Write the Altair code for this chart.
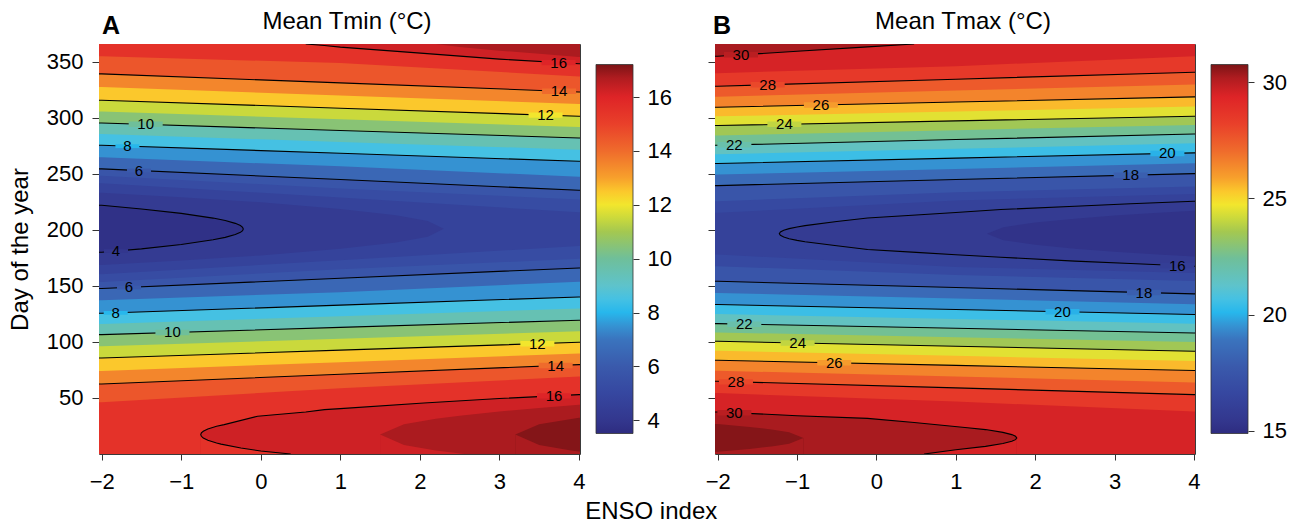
import altair as alt
import pandas as pd

FONT = "Liberation Sans"

# ---------------- colour palette of the colour bars (relative position, colour) ----------------
pal_pos = [0.0, 0.036, 0.109, 0.182, 0.255, 0.291, 0.328, 0.364, 0.401, 0.474,
           0.547, 0.583, 0.620, 0.656, 0.693, 0.766, 0.839, 0.912, 0.963, 1.0]
pal_col = ["#2e2c80", "#33378e", "#3647a0", "#3a5aac", "#3a74be", "#3592d2",
           "#27b7ec", "#45c1e3", "#5ec3cb", "#6fbf9a", "#a4c850", "#cad93c",
           "#f2e62d", "#fbc82c", "#f7a02c", "#ef6b2c", "#e9402a", "#de2427",
           "#b01c20", "#7b1416"]

# ---------------- axes / colour bars ----------------
enso_ticks = [-2, -1, 0, 1, 2, 3, 4]
day_ticks = [50, 100, 150, 200, 250, 300, 350]
cbar_a = [3.51, 17.21]
cbar_b = [14.89, 30.76]
cbar_ticks_a = [4, 6, 8, 10, 12, 14, 16]
cbar_ticks_b = [15, 20, 25, 30]

# ---------------- Panel A: mean Tmin, iso-lines ----------------
# straight iso-lines: day of the spring (lo) and autumn (hi) branch at ENSO -2, 1, 4
lin_x = [-2, 1, 4]
a_bg = 17.12
a_lin_levels = [15, 14, 13, 12, 11, 10, 9, 8, 7, 6, 5.5, 5]
a_lin_fill = [14.5, 13.5, 12.5, 11.5, 10.5, 9.5, 8.5, 7.5, 6.5, 5.75, 5.25, 4.75]
a_lin_lo = [[46.3, 58.6, 69.1], [62.5, 71.2, 79.8], [74.1, 82.0, 89.8], [85.7, 92.7, 99.7],
            [96.2, 102.9, 109.6], [106.6, 113.0, 119.4], [116.1, 123.0, 129.8], [125.6, 132.9, 140.2],
            [137.2, 144.5, 153.8], [147.7, 156.9, 166.1], [153.5, 165.0, 174.2], [160.4, 173.0, 185.7]]
a_lin_hi = [[355.0, 349.0, 337.0], [339.3, 331.3, 323.2], [327.6, 320.0, 312.4], [315.8, 308.7, 301.5],
            [305.7, 298.8, 291.8], [295.5, 288.8, 282.1], [285.6, 278.6, 271.7], [275.6, 268.5, 261.3],
            [264.8, 256.8, 247.6], [254.5, 245.0, 235.4], [248.5, 237.0, 227.2], [241.6, 229.0, 215.7]]
# curved iso-lines (area below the level: lower / upper day bound; *s = sliver under the lower branch)
a17_x = [-2, 3.2, 3.2, 3.5, 4]
a17_lo = [0, 0, 17.3, 26.5, 32.3]
a17_hi = [366, 366, 366, 366, 366]
a17s_x = [3.2, 3.5, 3.9, 4]
a17s_hi = [17.3, 8.1, 3.2, 2.3]
a165_x = [-2, 1.5, 1.5, 1.8, 2.2, 2.5, 3, 3.5, 4]
a165_lo = [0, 0, 17.3, 26.5, 31.4, 34.1, 37.9, 41.1, 43.9]
a165_hi = [366, 366, 366, 366, 366, 363.4, 360, 357.3, 354.5]
a165s_x = [1.5, 1.8, 2.2, 2.56]
a165s_hi = [17.3, 8.1, 3.2, 0]
a16_x = [-2, -0.755, -0.755, -0.747, -0.723, -0.666, -0.556, -0.46, -0.04, 0.565, 0.8, 1, 2.05, 3, 4]
a16_lo = [0, 0, 17.3, 18.8, 20.3, 22.3, 24.8, 26.2, 33.7, 37.5, 39.6, 40.5, 45.5, 49.5, 53]
a16_hi = [366, 366, 366, 366, 366, 366, 366, 366, 366, 366, 364.7, 363.2, 357.6, 352.5, 348.4]
a16s_x = [-0.755, -0.747, -0.723, -0.666, -0.556, -0.5, -0.25, 0, 0.376]
a16s_hi = [17.3, 15.8, 14.3, 12.3, 9.8, 8.8, 5.4, 2.7, 0]
a45_x = [-2, -1, 0, 1, 1.7, 2.1, 2.3]
a45_lo = [168.7, 172.7, 177.3, 183.2, 188.9, 194, 201]
a45_hi = [233.3, 229.3, 224.7, 218.8, 213.1, 208, 201]
a4_x = [-2, -1.5, -1.0, -0.6, -0.447, -0.321, -0.256, -0.229, -0.22]
a4_lo = [180.1, 183.1, 187.0, 191.2, 193.4, 195.9, 197.9, 199.4, 200.9]
a4_hi = [222.1, 218.7, 214.8, 210.6, 208.4, 205.9, 203.9, 202.4, 200.9]
# contour labels
a_lab_t = ["16", "14", "12", "10", "8", "6", "4", "6", "8", "10", "12", "14", "16"]
a_lab_x = [3.745, 3.75, 3.58, -1.447, -1.677, -1.531, -1.82, -1.657, -1.824, -1.111, 3.477, 3.707, 3.686]
a_lab_d = [349.4, 323.9, 302.5, 294.3, 274.8, 253.0, 181.2, 148.7, 126.0, 108.5, 98.5, 79.0, 51.9]

# ---------------- Panel B: mean Tmax ----------------
b_bg = 30.65
b_lin_levels = [29, 28, 27, 26, 25, 24, 23, 22, 21, 20, 19, 18, 17, 16.5]
b_lin_fill = [28.5, 27.5, 26.5, 25.5, 24.5, 23.5, 22.5, 21.5, 20.5, 19.5, 18.5, 17.5, 16.75, 16.25]
b_lin_lo = [[54.4, 46.8, 37.9], [64.9, 59.0, 53.0], [74.3, 69.2, 63.8], [83.7, 79.1, 74.5],
            [92.2, 87.6, 83.1], [100.6, 96.2, 91.7], [108.5, 104.2, 99.9], [116.4, 112.2, 108.0],
            [124.9, 120.6, 116.3], [133.4, 129.0, 124.5], [143.8, 138.8, 133.7], [154.2, 148.6, 142.9],
            [167.7, 159.7, 154.5], [178.1, 167.0, 161.5]]
b_lin_hi = [[340.0, 346.2, 355.1], [328.3, 334.6, 340.8], [318.9, 324.4, 329.8], [309.5, 314.2, 318.8],
            [301.4, 305.8, 310.2], [293.2, 297.4, 301.5], [284.4, 289.1, 293.6], [275.6, 280.7, 285.7],
            [267.5, 272.4, 277.3], [259.3, 264.1, 268.8], [249.5, 254.5, 259.6], [239.6, 245.0, 250.3],
            [225.7, 233.7, 238.8], [215.3, 226.4, 232.2]]
b305_x = [-2, -1.6, -1.3, -1.1, -0.92, -0.92, 4]
b305_lo = [26.7, 24.2, 21.7, 19.4, 14.3, 0, 0]
b305_hi = [366, 366, 366, 366, 366, 366, 366]
b305s_x = [-2, -1.6, -1.3, -1.1, -0.92]
b305s_hi = [1.9, 4.4, 6.9, 9.2, 14.3]
b30_x = [-2, -1, -0.112, 0.475, 1.147, 1.374, 1.593, 1.705, 1.752, 1.768, 1.768, 4]
b30_lo = [37.5, 34.2, 31.8, 28.1, 23.5, 21.8, 19.3, 17.3, 15.8, 14.3, 0, 0]
b30_hi = [355.1, 359.5, 363.4, 366, 366, 366, 366, 366, 366, 366, 366, 366]
b30s_x = [0.6, 1, 1.374, 1.593, 1.705, 1.752, 1.768]
b30s_hi = [0, 3.8, 6.8, 9.3, 11.3, 12.8, 14.3]
b16_x = [-1.224, -1.21, -1.168, -1.1, -1.0, -0.9, -0.5, -0.112, 0.5, 1, 1.567, 2.5, 3.2, 4]
b16_lo = [196.7, 195.2, 193.7, 192.2, 190.7, 189.5, 185.9, 182.5, 180, 177.8, 175.6, 172.2, 170, 167.6]
b16_hi = [196.7, 198.2, 199.7, 201.2, 202.7, 203.9, 207.5, 210.7, 213.4, 215.6, 218.2, 221.2, 223.4, 225.6]
b155_x = [1.39, 1.6, 2, 2.5, 3, 3.5, 4]
b155_lo = [196.7, 190.9, 186.8, 183.3, 180.6, 178.3, 176.2]
b155_hi = [196.7, 202.5, 206.6, 210.1, 212.8, 215.1, 217.2]
b_lab_t = ["30", "28", "26", "24", "22", "20", "18", "16", "18", "20", "22", "24", "26", "28", "30"]
b_lab_x = [-1.707, -1.37, -0.70, -1.16, -1.79, 3.665, 3.203, 3.79, 3.37, 2.343, -1.665, -0.993, -0.532, -1.77, -1.79]
b_lab_d = [356.4, 329.6, 311.5, 294.4, 276.0, 268.3, 248.9, 168.2, 144.1, 127.0, 115.9, 99.1, 81.5, 64.4, 36.8]

# ---------------- layout ----------------
XMIN, XMAX = -2.034, 4.013
DMIN, DMAX = 0, 366
PW_A, PW_B, PH = 481, 480, 410
CB_GAP, CB_W, CB_PAD = 16, 37, 20.5
MASK = "M-1,-0.16L1,-0.16L1,0.16L-1,0.16Z"

XS = alt.Scale(domain=[XMIN, XMAX], nice=False, zero=False)
YS = alt.Scale(domain=[DMIN, DMAX], nice=False, zero=False)


def cscale(rng):
    lo, hi = rng
    return alt.Scale(domain=[lo + t * (hi - lo) for t in pal_pos], range=pal_col,
                     interpolate="rgb", clamp=True)


def edge(x):
    if x == -2:
        return XMIN
    if x == 4:
        return XMAX
    return None


def extend(xs, cols):
    xs = list(xs)
    cols = [list(c) for c in cols]
    e = edge(xs[0])
    if e is not None:
        xs.insert(0, e)
        for c in cols:
            c.insert(0, c[0])
    e = edge(xs[-1])
    if e is not None:
        xs.append(e)
        for c in cols:
            c.append(c[-1])
    return xs, cols


def build_panel(regions, lines, labels, crng, cticks, xax, yax, pw, title, letter, letter_x):
    cs = cscale(crng)
    X = alt.X("x:Q", scale=XS, axis=xax)
    layers = []
    for xs, lo, hi, v in regions:
        xs2, (lo2, hi2) = extend(xs, [lo, hi])
        df = pd.DataFrame({"x": xs2, "lo": lo2, "hi": hi2})
        df["v"] = float(v)
        layers.append(alt.Chart(df).mark_area().encode(
            x=X, y=alt.Y("lo:Q", scale=YS, axis=yax), y2=alt.Y2("hi:Q"),
            fill=alt.Fill("v:Q", scale=cs, legend=None)))
    rows = []
    for k, (xs, ds) in enumerate(lines):
        xs2, (ds2,) = extend(xs, [ds])
        for i, (x, d) in enumerate(zip(xs2, ds2)):
            rows.append({"seg": k, "i": i, "x": x, "d": d})
    layers.append(alt.Chart(pd.DataFrame(rows)).mark_line(clip=True, color="black", strokeWidth=1.1).encode(
        x=X, y=alt.Y("d:Q", scale=YS, axis=yax), detail="seg:N", order=alt.Order("i:Q")))
    lt, lx, ld = labels
    ldf = pd.DataFrame({"t": lt, "x": lx, "d": ld})
    ldf["v"] = [float(t) for t in lt]
    ldf["s"] = [(34 if len(t) > 1 else 24) ** 2 for t in lt]
    layers.append(alt.Chart(ldf).mark_point(shape=MASK, filled=True, opacity=1, strokeWidth=0).encode(
        x=X, y=alt.Y("d:Q", scale=YS, axis=yax),
        fill=alt.Fill("v:Q", scale=cs, legend=None),
        size=alt.Size("s:Q", scale=None, legend=None)))
    layers.append(alt.Chart(ldf).mark_text(font=FONT, fontSize=15, color="black",
                                           align="center", baseline="middle").encode(
        x=X, y=alt.Y("d:Q", scale=YS, axis=yax), text="t:N"))
    layers.append(alt.Chart(pd.DataFrame({"t": [title]})).mark_text(
        font=FONT, fontSize=24, color="black", align="center", baseline="alphabetic").encode(
        text="t:N", x=alt.value(248), y=alt.value(-15)))
    layers.append(alt.Chart(pd.DataFrame({"t": [letter]})).mark_text(
        font=FONT, fontSize=25, fontWeight="bold", color="black", align="left", baseline="alphabetic").encode(
        text="t:N", x=alt.value(letter_x), y=alt.value(-10)))
    inner = alt.layer(*layers)

    lo, hi = crng
    ppu = (PH - 2 * CB_PAD) / (hi - lo)
    dom = [lo - CB_PAD / ppu, hi + CB_PAD / ppu]
    grad = alt.LinearGradient(gradient="linear",
                              stops=[alt.GradientStop(color=c, offset=t) for t, c in zip(pal_pos, pal_col)],
                              x1=0, x2=0, y1=1, y2=0)
    cb = alt.Chart(pd.DataFrame({"clo": [lo], "chi": [hi]})).mark_rect(
        fill=grad, stroke="#333333", strokeWidth=0.8).encode(
        y=alt.Y("clo:Q", scale=alt.Scale(domain=dom, nice=False, zero=False),
                axis=alt.Axis(orient="right", values=cticks, title=None, offset=CB_GAP + CB_W,
                              tickSize=6, labelPadding=8)),
        y2="chi:Q",
        x=alt.value(pw + CB_GAP), x2=alt.value(pw + CB_GAP + CB_W))
    return alt.layer(inner, cb).resolve_scale(y="independent").properties(width=pw, height=PH)


def zeros(xs):
    return [0] * len(xs)


# painter order: whole plot first, then ever colder regions on top
regions_a = [([-2, 4], [0, 0], [366, 366], a_bg),
             (a17_x, a17_lo, a17_hi, 16.75), (a17s_x, zeros(a17s_x), a17s_hi, 16.75),
             (a165_x, a165_lo, a165_hi, 16.25), (a165s_x, zeros(a165s_x), a165s_hi, 16.25),
             (a16_x, a16_lo, a16_hi, 15.5), (a16s_x, zeros(a16s_x), a16s_hi, 15.5)]
regions_a += [(lin_x, lo, hi, f) for lo, hi, f in zip(a_lin_lo, a_lin_hi, a_lin_fill)]
regions_a += [(a45_x, a45_lo, a45_hi, 4.25), (a4_x, a4_lo, a4_hi, 3.75)]

lines_a = [(a4_x + a4_x[-2::-1], a4_hi + a4_lo[-2::-1])]
for L in (14, 12, 10, 8, 6):
    k = a_lin_levels.index(L)
    lines_a += [(lin_x, a_lin_lo[k]), (lin_x, a_lin_hi[k])]
lines_a += [(a16s_x[::-1] + a16_x[3:], a16s_hi[::-1] + a16_lo[3:]),
            (a16_x[9:], a16_hi[9:])]

regions_b = [([-2, 4], [0, 0], [366, 366], b_bg),
             (b305_x, b305_lo, b305_hi, 30.25), (b305s_x, zeros(b305s_x), b305s_hi, 30.25),
             (b30_x, b30_lo, b30_hi, 29.5), (b30s_x, zeros(b30s_x), b30s_hi, 29.5)]
regions_b += [(lin_x, lo, hi, f) for lo, hi, f in zip(b_lin_lo, b_lin_hi, b_lin_fill)]
regions_b += [(b16_x, b16_lo, b16_hi, 15.75), (b155_x, b155_lo, b155_hi, 15.25)]

lines_b = [(b16_x[::-1] + b16_x[1:], b16_lo[::-1] + b16_hi[1:])]
for L in (28, 26, 24, 22, 20, 18):
    k = b_lin_levels.index(L)
    lines_b += [(lin_x, b_lin_lo[k]), (lin_x, b_lin_hi[k])]
lines_b += [(b30_x[:10] + b30s_x[-2::-1], b30_lo[:10] + b30s_hi[-2::-1]),
            (b30_x[:4], b30_hi[:4])]

xax_a = alt.Axis(values=enso_ticks, title="ENSO index", titleX=551.7, titleY=64,
                 titleAlign="center", titleBaseline="alphabetic", tickSize=6, labelPadding=11.5)
xax_b = alt.Axis(values=enso_ticks, title=None, tickSize=6, labelPadding=11.5)
yax_a = alt.Axis(values=day_ticks, title="Day of the year", titleX=-79, titleY=205,
                 titleAngle=270, titleAlign="center", titleBaseline="middle", tickSize=7, labelPadding=9)
yax_b = alt.Axis(values=day_ticks, title=None, labels=False, tickSize=7)

panel_a = build_panel(regions_a, lines_a, (a_lab_t, a_lab_x, a_lab_d), cbar_a, cbar_ticks_a,
                      xax_a, yax_a, PW_A, "Mean Tmin (°C)", "A", 3)
panel_b = build_panel(regions_b, lines_b, (b_lab_t, b_lab_x, b_lab_d), cbar_b, cbar_ticks_b,
                      xax_b, yax_b, PW_B, "Mean Tmax (°C)", "B", -2)

chart = alt.hconcat(panel_a, panel_b, spacing=135, bounds="flush").resolve_scale(
    x="independent", y="independent", color="independent", fill="independent"
).properties(
    padding={"left": 7, "top": 9, "right": 8, "bottom": 4}, background="white"
).configure_view(
    stroke="#3a3a3a", strokeWidth=1
).configure_axis(
    labelFont=FONT, titleFont=FONT, labelColor="black", titleColor="black",
    tickColor="#333333", tickWidth=1, domain=False, grid=False,
    labelFontSize=22, titleFontSize=24, titleFontWeight="normal",
    labelFlush=False, labelOverlap=False
)

chart.save("out.html", embed_options={"renderer": "svg", "actions": False})
